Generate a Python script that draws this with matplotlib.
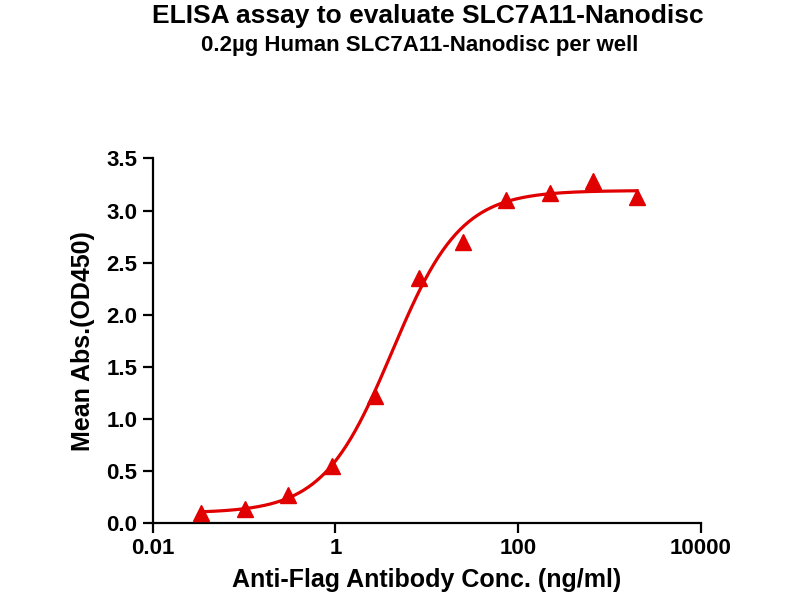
import numpy as np
import matplotlib
matplotlib.use("Agg")
import matplotlib.pyplot as plt

# 3-fold dilution series starting at 2000 ng/ml
conc = [2000, 666.7, 222.2, 74.07, 24.69, 8.230, 2.743, 0.9145, 0.3048, 0.1016, 0.03387]
od450 = [3.13, 3.28, 3.17, 3.10, 2.70, 2.35, 1.22, 0.55, 0.27, 0.14, 0.10]

x_ticks = [0.01, 1, 100, 10000]
x_tick_labels = ["0.01", "1", "100", "10000"]
y_ticks = [0.0, 0.5, 1.0, 1.5, 2.0, 2.5, 3.0, 3.5]

RED = "#e00000"
FONT = "Liberation Sans"


def four_pl(x, p):
    bottom, top, logec50, hill = p
    return bottom + (top - bottom) / (1 + 10 ** ((logec50 - np.log10(x)) * hill))


def fit_four_pl(x, y):
    # simple Levenberg-Marquardt, numpy only
    p = np.array([min(y), max(y), np.log10(np.median(x)), 1.0])
    lam = 1e-2
    for _ in range(300):
        r = y - four_pl(x, p)
        J = np.zeros((len(x), 4))
        for k in range(4):
            dp = np.zeros(4)
            dp[k] = 1e-6
            J[:, k] = (four_pl(x, p + dp) - four_pl(x, p)) / 1e-6
        A = J.T @ J
        step = np.linalg.solve(A + lam * np.diag(np.diag(A)), J.T @ r)
        p_new = p + step
        if np.sum((y - four_pl(x, p_new)) ** 2) < np.sum(r ** 2):
            p = p_new
            lam *= 0.5
        else:
            lam *= 4
    return p


x = np.array(conc)
y = np.array(od450)
params = fit_four_pl(x, y)
xs = np.logspace(np.log10(x.min()), np.log10(x.max()), 400)

fig = plt.figure(figsize=(8, 6), dpi=100)
ax = fig.add_axes([0.191, 0.128, 0.685, 0.608])

ax.plot(xs, four_pl(xs, params), color=RED, linewidth=2.3, zorder=2)
ax.plot(x, y, linestyle="none", marker="^", markersize=11.5, color=RED,
        markeredgecolor=RED, zorder=3)

ax.set_xscale("log")
ax.set_xlim(0.01, 10000)
ax.set_ylim(0, 3.5)
ax.set_xticks(x_ticks)
ax.set_xticklabels(x_tick_labels)
ax.minorticks_off()
ax.set_yticks(y_ticks)
ax.set_yticklabels([f"{v:.1f}" for v in y_ticks])

for side in ["top", "right"]:
    ax.spines[side].set_visible(False)
for side in ["left", "bottom"]:
    ax.spines[side].set_linewidth(1.6)

ax.tick_params(axis="both", direction="out", length=7, width=1.6,
               labelsize=16, pad=4)
for lab in ax.get_xticklabels() + ax.get_yticklabels():
    lab.set_fontfamily(FONT)
    lab.set_fontweight("bold")

ax.set_xlabel("Anti-Flag Antibody Conc. (ng/ml)", fontsize=18, fontweight="bold",
              family=FONT, labelpad=6)
ax.set_ylabel("Mean Abs.(OD450)", fontsize=18, fontweight="bold",
              family=FONT, labelpad=8)

fig.text(0.535, 0.973, "ELISA assay to evaluate SLC7A11-Nanodisc", ha="center",
         va="center", fontsize=19, fontweight="bold", family=FONT)
fig.text(0.524, 0.925, "0.2\u00b5g Human SLC7A11-Nanodisc per well", ha="center",
         va="center", fontsize=16, fontweight="bold", family=FONT)

fig.savefig("out.png", dpi=100)
